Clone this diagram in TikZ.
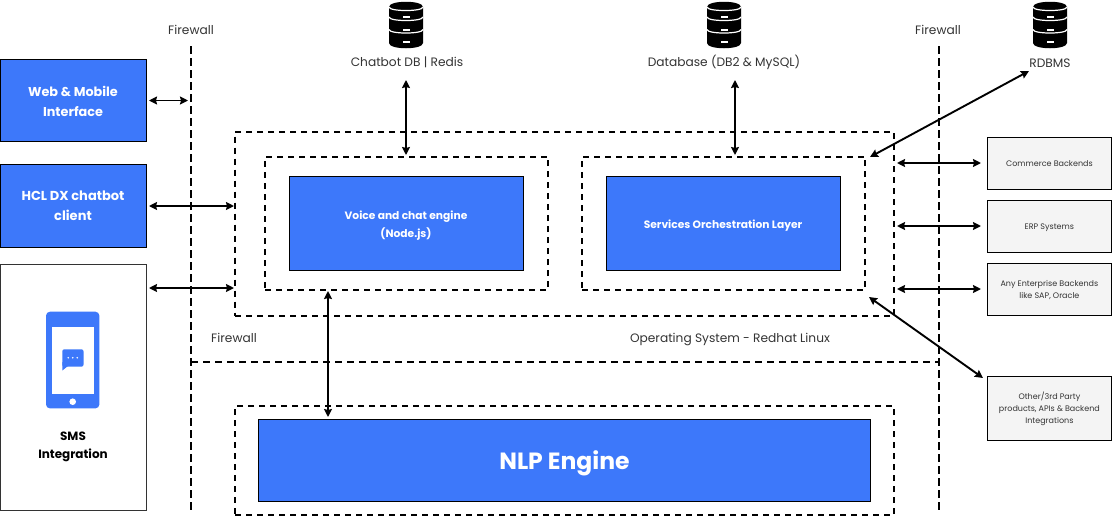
\documentclass[tikz,border=0pt]{standalone}
\usepackage{fontspec}
\setmainfont{Poppins}
\usetikzlibrary{arrows.meta}
\definecolor{hclblue}{HTML}{3D78FA}
\definecolor{backfill}{HTML}{F4F4F4}
\definecolor{txtgray}{HTML}{333333}
\newcommand{\dnstrut}[1]{\rule{0pt}{#1}}
\tikzset{
  px/.style={x=1pt,y=-1pt},
  bluebox/.style={draw=black,line width=0.8pt,fill=hclblue,text=white,font=\bfseries\fontsize{10.7}{18}\selectfont,align=center,inner sep=0pt,outer sep=0pt,anchor=north west},
  backend/.style={draw=black,line width=0.7pt,fill=backfill,text=txtgray,font=\fontsize{8}{12}\selectfont,align=center,inner sep=0pt,outer sep=0pt,anchor=north west,minimum width=124pt},
  zone/.style={draw=black,line width=2pt,dash pattern=on 6pt off 5pt,inner sep=0pt,outer sep=0pt,anchor=north west},
  fw/.style={draw=black,line width=2pt,dash pattern=on 8pt off 4pt},
  fwh/.style={draw=black,line width=2pt,dash pattern=on 6.5pt off 5.5pt},
  link/.style={draw=black,line width=1.9pt,{Stealth[length=8pt,width=8pt,inset=1pt]}-{Stealth[length=8pt,width=8pt,inset=1pt]}},
  lab/.style={text=txtgray,font=\fontsize{12.2}{15}\selectfont,inner sep=0pt},
  pics/dbicon/.style={code={
    \fill[black] (-17,-18) .. controls (-17,-25) and (17,-25) .. (17,-18) -- (17,18) .. controls (17,25) and (-17,25) .. (-17,18) -- cycle;
    \foreach \yy in {-18,-8,4.5}{
      \draw[white,line width=1.2pt] (-17,\yy) .. controls (-17,\yy+4.7) and (17,\yy+4.7) .. (17,\yy);
    }
    \foreach \yy in {-8,5,17}{
      \fill[white] (-3.5,\yy-0.7) rectangle (3.5,\yy+0.7);
    }
  }},
}
\begin{document}
\begin{tikzpicture}[px]
\useasboundingbox (0,0) rectangle (1112,517);

% firewalls
\coordinate (fwlt) at (191,46); \coordinate (fwlb) at (191,511);
\coordinate (fwrt) at (938.5,46); \coordinate (fwrb) at (938.5,511);
\coordinate (fwhl) at (191,361.5); \coordinate (fwhr) at (938.5,361.5);
\draw[fw] (fwlt) -- (fwlb);
\draw[fw] (fwrt) -- (fwrb);
\draw[fwh] (fwhl) -- (fwhr);

% zones
\node[zone,minimum width=659pt,minimum height=184pt] (os) at (235,131.5) {};
\node[zone,minimum width=283pt,minimum height=133.5pt] (zvoice) at (265,156.5) {};
\node[zone,minimum width=283pt,minimum height=133.5pt] (zserv) at (582,156.5) {};
\node[zone,minimum width=659pt,minimum height=109pt] (znlp) at (235,406) {};

% blue boxes
\node[bluebox,minimum width=146pt,minimum height=82pt,font=\bfseries\fontsize{12.8}{20}\selectfont] (web) at (0,59) {\dnstrut{14pt}Web \& Mobile\\Interface};
\node[bluebox,minimum width=146pt,minimum height=83pt,font=\bfseries\fontsize{13}{20}\selectfont] (hcl) at (0,164) {\dnstrut{10pt}HCL DX chatbot\\client};
\node[bluebox,minimum width=234pt,minimum height=94pt] (voice) at (289,176.5) {\dnstrut{13pt}Voice and chat engine\\(Node.js)};
\node[bluebox,minimum width=234pt,minimum height=94pt] (serv) at (606,176.5) {\dnstrut{12.5pt}Services Orchestration Layer};
\node[bluebox,minimum width=612pt,minimum height=82pt,font=\bfseries\fontsize{23.5}{28}\selectfont] (nlp) at (258.5,419.5) {\dnstrut{25pt}NLP Engine};

% SMS box
\node[draw=black!80,line width=0.8pt,fill=white,inner sep=0pt,outer sep=0pt,anchor=north west,minimum width=146pt,minimum height=246pt] (sms) at (0,264.5) {};
\fill[hclblue,rounded corners=4pt] (46,311.7) rectangle (99.4,408.4);
\fill[white] (51.7,326.7) rectangle (94,394.3);
\fill[white] (72.7,401.7) circle [radius=3.3pt];
\fill[hclblue,rounded corners=2pt] (62.3,349.3) rectangle (83.5,366.7);
\fill[hclblue] (62.3,362) -- (62.3,370.5) -- (68,366) -- cycle;
\foreach \dx in {-4.5,0,4.5}{\fill[white] (72.8+\dx,357.7) circle [radius=0.9pt];}
\node[font=\bfseries\fontsize{12}{18}\selectfont,align=center,inner sep=0pt] (smslab) at (73,447.2) {SMS\\Integration};

% backends
\node[backend,minimum height=52pt] (b1) at (987.4,137.3) {Commerce Backends};
\node[backend,minimum height=52.3pt] (b2) at (987.4,200.2) {\dnstrut{8.5pt}ERP Systems};
\node[backend,minimum height=52pt] (b3) at (987.4,263.3) {\dnstrut{8.5pt}Any Enterprise Backends\\like SAP, Oracle};
\node[backend,minimum height=64pt] (b4) at (987.4,376.7) {Other/3rd Party\\products, APIs \& Backend\\Integrations};

% labels
\node[lab] (fl1) at (191,29.5) {Firewall};
\node[lab] (fl2) at (938,29.5) {Firewall};
\node[lab] (fl3) at (234,338) {Firewall};
\node[lab] (oslab) at (730,339.3) {Operating System - Redhat Linux};
\node[lab] (dbl1) at (407,62.5) {Chatbot DB | Redis};
\node[lab] (dbl2) at (724,62.5) {Database (DB2 \& MySQL)};
\node[lab] (dbl3) at (1050,63) {RDBMS};

% db icons
\pic at (406,25) {dbicon};
\pic at (724,25) {dbicon};
\pic at (1050,25) {dbicon};

% connectors
\coordinate (a1) at (149,100.5); \coordinate (a2) at (188,100.5);
\coordinate (c1) at (149,206); \coordinate (c2) at (234,206);
\coordinate (d1) at (149,288); \coordinate (d2) at (234,288);
\draw[link] (a1) -- (a2);
\draw[link] (c1) -- (c2);
\draw[link] (d1) -- (d2);
\coordinate (e1) at (406,80); \coordinate (e2) at (406,155);
\coordinate (f1) at (735,80); \coordinate (f2) at (735,155);
\draw[link] (e1) -- (e2);
\draw[link] (f1) -- (f2);
\coordinate (g1) at (328,291); \coordinate (g2) at (328,417);
\draw[link] (g1) -- (g2);
\coordinate (h1) at (870,157); \coordinate (h2) at (1029,71);
\draw[link] (h1) -- (h2);
\coordinate (i1) at (897,163); \coordinate (i2) at (981,163);
\coordinate (j1) at (897,226); \coordinate (j2) at (981,226);
\coordinate (k1) at (897,289); \coordinate (k2) at (981,289);
\draw[link] (i1) -- (i2);
\draw[link] (j1) -- (j2);
\draw[link] (k1) -- (k2);
\coordinate (l1) at (869,297); \coordinate (l2) at (983,378);
\draw[link] (l1) -- (l2);
\end{tikzpicture}
\end{document}
